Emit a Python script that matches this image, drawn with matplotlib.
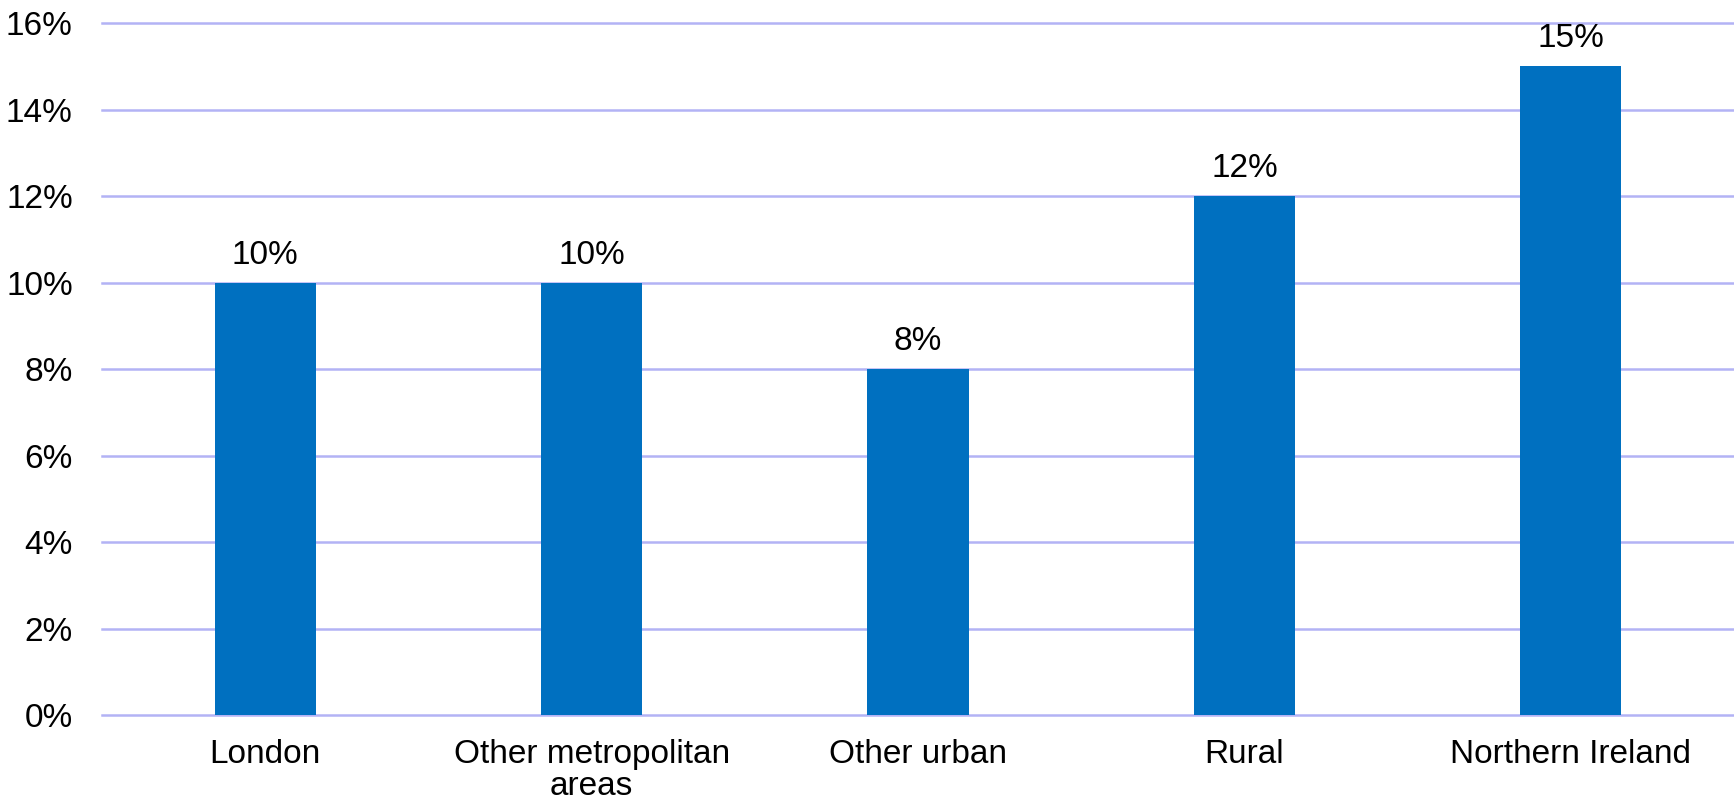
import numpy as np
import matplotlib.pyplot as plt
from matplotlib.ticker import FuncFormatter

plt.rcParams['font.family'] = ['Liberation Sans', 'DejaVu Sans']

# === Data ===
categories = ['London', 'Other metropolitan\nareas', 'Other urban', 'Rural', 'Northern Ireland']
values = [10, 10, 8, 12, 15]
value_labels = ['10%', '10%', '8%', '12%', '15%']
y_ticks = [0, 2, 4, 6, 8, 10, 12, 14, 16]

fig = plt.figure(figsize=(17.34, 8.02), dpi=100)
ax = fig.add_axes([0.0588, 0.1085, 0.9412, 0.8625])

x = np.arange(len(categories))
ax.bar(x, values, width=0.31, color='#0070C0', zorder=3)

for xi, v, lab in zip(x, values, value_labels):
    ax.text(xi, v + 0.28, lab, ha='center', va='bottom', fontsize=24, color='black')

ax.set_xlim(-0.5, len(categories) - 0.5)
ax.set_ylim(0, 16)
ax.set_yticks(y_ticks)
ax.yaxis.set_major_formatter(FuncFormatter(lambda v, p: f'{int(v)}%'))
ax.set_xticks(x)
ax.set_xticklabels(categories, fontsize=24, linespacing=1.05)
ax.tick_params(axis='y', labelsize=24, length=0, pad=21)
ax.tick_params(axis='x', length=0, pad=17)

ax.grid(axis='y', color='#B3B3F5', linewidth=1.8, zorder=0)
for gl in ax.get_ygridlines():
    gl.set_clip_on(False)
ax.set_axisbelow(True)
for s in ax.spines.values():
    s.set_visible(False)

plt.savefig('out.png', dpi=100)
plt.close()
